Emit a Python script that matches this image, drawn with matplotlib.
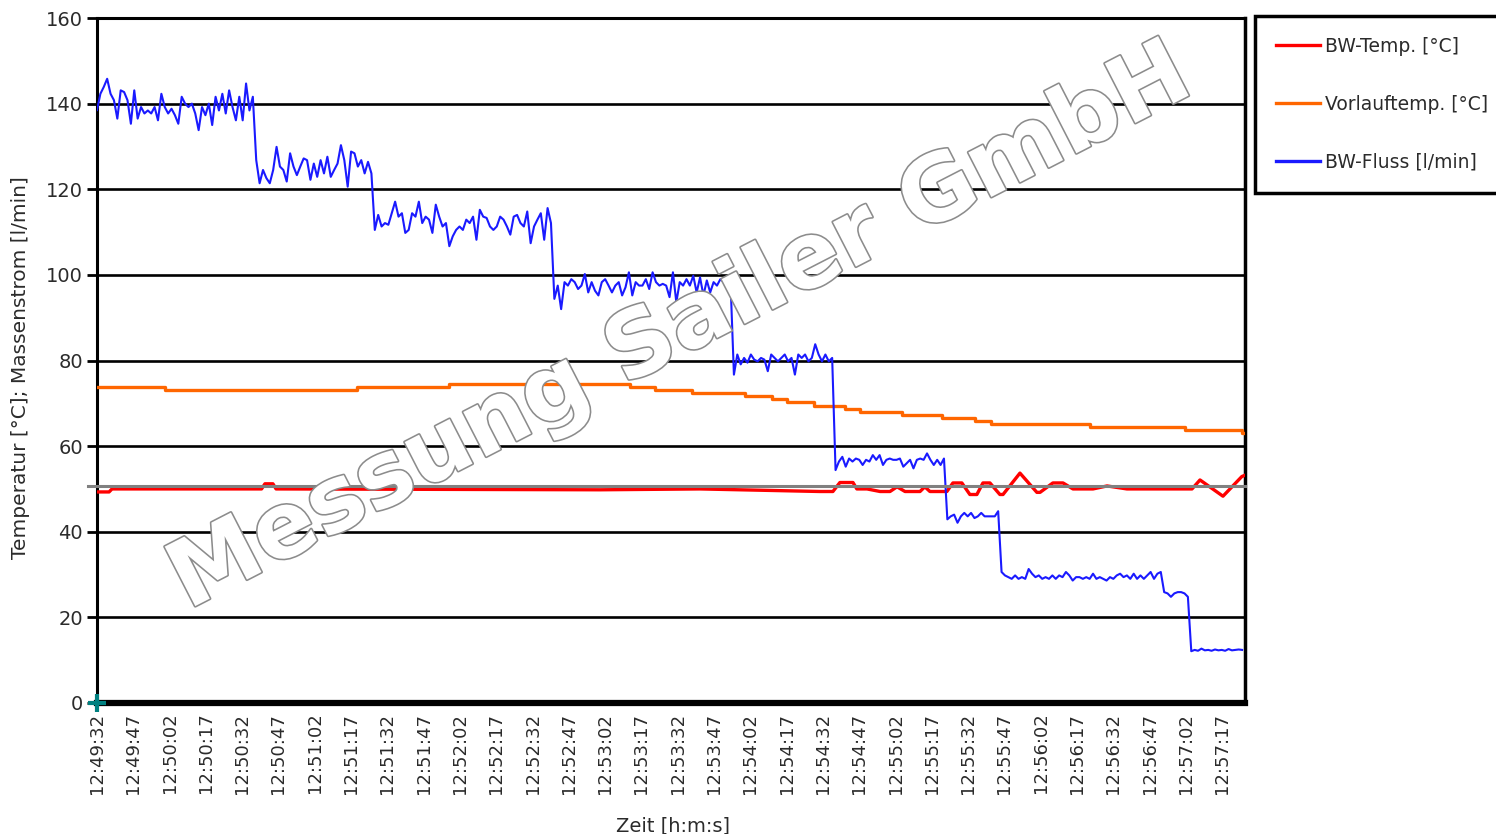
import matplotlib
matplotlib.use("Agg")
import matplotlib.pyplot as plt
import matplotlib.patheffects as pe
import numpy as np

# ---------------- data ----------------
# time axis: seconds after 12:49:32
tick_seconds = list(range(0, 466, 15))
tick_labels = ["12:49:32", "12:49:47", "12:50:02", "12:50:17", "12:50:32", "12:50:47",
               "12:51:02", "12:51:17", "12:51:32", "12:51:47", "12:52:02", "12:52:17",
               "12:52:32", "12:52:47", "12:53:02", "12:53:17", "12:53:32", "12:53:47",
               "12:54:02", "12:54:17", "12:54:32", "12:54:47", "12:55:02", "12:55:17",
               "12:55:32", "12:55:47", "12:56:02", "12:56:17", "12:56:32", "12:56:47",
               "12:57:02", "12:57:17"]
x_end = 474.4

# BW-Fluss [l/min], sampled every 1.4 s
flow_sample_s = 1.4
flow_values = [
    # ~140
    138.5, 142.3, 143.9, 145.8, 142.3, 140.8, 136.5, 143.1, 142.7, 140.8, 135.3, 143.1,
    136.5, 139.2, 137.7, 138.4, 137.7, 139.2, 136.1, 142.3, 139.2, 137.7, 138.8, 137.3,
    135.3, 141.6, 140.0, 139.2, 140.0, 137.7, 133.8, 139.2, 137.3, 140.0, 135.0, 141.6,
    138.4, 142.3, 137.7, 143.1, 139.2, 136.1, 141.6, 136.1, 144.7, 138.4, 141.6,
    # ~125
    126.8, 121.4, 124.5, 122.6, 121.4, 124.5, 129.9, 125.3, 124.5, 121.8, 128.4, 125.3,
    123.3, 125.3, 127.2, 126.8, 122.2, 126.0, 122.9, 126.8, 123.7, 127.6, 122.9, 124.5,
    126.0, 130.3, 126.8, 120.6, 128.8, 128.4, 125.3, 126.8, 123.7, 126.4, 123.7,
    # ~112
    110.5, 114.0, 111.3, 112.1, 111.7, 114.4, 117.1, 113.6, 114.4, 109.8, 110.5, 114.4,
    113.6, 117.1, 112.1, 113.6, 112.9, 109.8, 116.4, 113.6, 111.3, 112.1, 106.7, 109.0,
    110.5, 111.3, 110.5, 112.9, 112.1, 113.6, 108.2, 115.2, 113.6, 113.3, 111.3, 110.5,
    111.3, 113.6, 112.9, 111.3, 109.4, 113.6, 114.0, 112.1, 111.3, 114.8, 107.4, 111.3,
    112.9, 114.4, 108.2, 115.6, 112.1,
    # ~97
    94.4, 97.5, 92.0, 98.3, 97.5, 99.0, 98.3, 96.7, 97.5, 100.2, 95.9, 98.3, 96.3, 95.2,
    98.3, 99.0, 97.5, 95.9, 97.5, 98.3, 95.2, 97.1, 100.6, 95.2, 98.3, 97.5, 97.5, 99.0,
    96.7, 100.6, 98.3, 97.5, 97.9, 97.5, 94.8, 100.6, 93.6, 98.3, 97.5, 99.0, 97.5, 99.8,
    95.9, 99.4, 95.2, 98.7, 95.9, 98.3, 97.5, 99.0, 98.3, 97.5, 98.3,
    # ~80
    76.7, 81.4, 79.1, 80.6, 79.5, 81.4, 80.2, 79.8, 80.6, 80.2, 77.5, 81.4, 80.6, 79.8,
    80.6, 81.4, 79.8, 80.6, 76.7, 81.4, 80.6, 81.4, 79.8, 80.6, 83.8, 81.4, 79.8, 81.4,
    79.8, 80.6,
    # ~57
    54.4, 56.4, 57.5, 55.2, 57.1, 56.4, 57.1, 56.8, 55.6, 56.8, 56.4, 57.9, 56.8, 57.9,
    55.6, 56.8, 57.1, 56.8, 56.8, 57.1, 55.2, 56.0, 56.8, 54.8, 56.8, 57.1, 56.8, 58.3,
    56.8, 55.6, 56.8, 55.6, 57.1,
    # ~43
    42.9, 43.6, 44.0, 42.1, 43.6, 44.4, 43.6, 44.4, 43.2, 43.6, 44.4, 43.6, 43.6, 43.6,
    43.6, 44.8,
    # ~30
    30.6, 29.8, 29.4, 29.0, 29.8, 29.0, 29.4, 29.0, 31.3, 30.2, 29.4, 29.8, 29.0, 29.4,
    29.0, 29.8, 29.0, 29.8, 29.4, 30.6, 29.8, 28.6, 29.4, 29.4, 29.0, 29.4, 29.0, 30.2,
    29.0, 29.4, 29.0, 28.6, 29.4, 29.0, 29.8, 30.2, 29.4, 29.8, 29.0, 30.2, 29.0, 29.8,
    29.0, 29.8, 30.6, 29.0, 30.2, 30.6,
    # ~25.5
    25.9, 25.6, 24.8, 25.6, 25.9, 25.9, 25.6, 24.8,
    # ~12
    12.1, 12.4, 12.2, 12.7, 12.3, 12.4, 12.2, 12.5, 12.3, 12.4, 12.2, 12.6, 12.3, 12.4,
    12.5, 12.4,
]

# Vorlauftemp. [°C] (stepped values, change times in s)
supply_t = [0, 28.1, 107.3, 145.5, 220.2, 230.6, 245.9, 267.8, 278.9, 285.1, 296.3,
            309.1, 315.3, 332.6, 349.2, 362.8, 369.4, 410.3, 449.6, 473.1, 474.4]
supply_v = [73.8, 73.0, 73.8, 74.4, 73.8, 73.0, 72.3, 71.6, 70.9, 70.2, 69.4,
            68.6, 67.9, 67.2, 66.5, 65.8, 65.1, 64.4, 63.7, 63.0, 63.0]

# BW-Temp. [°C]
bw_t = [0, 5.0, 6.2, 68.0, 69.4, 72.7, 74.0, 207.9, 249.2, 298.8, 304.1, 307.0, 312.4,
        314.0, 318.2, 323.6, 327.7, 330.6, 333.9, 340.1, 342.1, 344.2, 351.2, 353.7,
        357.4, 360.7, 363.6, 366.1, 369.0, 373.1, 374.4, 381.4, 388.4, 389.7, 395.0,
        399.2, 403.3, 411.6, 417.4, 425.6, 452.5, 455.8, 465.3, 473.1, 474.4]
bw_v = [49.3, 49.3, 50.0, 50.0, 51.2, 51.2, 50.0, 49.8, 50.0, 49.4, 49.4, 51.5, 51.5,
        50.0, 50.0, 49.4, 49.4, 50.5, 49.4, 49.4, 50.5, 49.4, 49.4, 51.4,
        51.4, 48.7, 48.7, 51.4, 51.4, 48.7, 48.7, 53.7, 49.2, 49.2, 51.4,
        51.4, 50.0, 50.0, 50.7, 50.0, 50.0, 52.1, 48.3, 52.9, 53.2]

ref_level = 50.7
y_ticks = [0, 20, 40, 60, 80, 100, 120, 140, 160]
series_names = ["BW-Temp. [°C]", "Vorlauftemp. [°C]", "BW-Fluss [l/min]"]

# ---------------- figure ----------------
fig = plt.figure(figsize=(14.96, 8.34), dpi=100)
ax = fig.add_axes([97 / 1496, 1 - 703 / 834, 1148 / 1496, 685 / 834])

flow_t = np.arange(len(flow_values)) * flow_sample_s
text_col = "#2b2b2b"

ax.set_xlim(0, x_end)
ax.set_ylim(0, 160)
ax.set_yticks(y_ticks)
ax.yaxis.grid(True, color="black", linewidth=1.9, zorder=1)
ax.set_axisbelow(True)

l_bw, = ax.plot(bw_t, bw_v, color="#ff0000", lw=2.4, zorder=3)
ax.axhline(ref_level, xmin=-0.008, xmax=1, color="#808080", lw=2.2, zorder=4, clip_on=False)
l_sup, = ax.plot(supply_t, supply_v, color="#ff6600", lw=2.4, drawstyle="steps-post", zorder=3)
l_flow, = ax.plot(flow_t, flow_values, color="#1a1aff", lw=1.5, zorder=3)
ax.plot([0], [0], marker="+", color="#008080", ms=13, mew=3, clip_on=False, zorder=6)

ax.set_xticks(tick_seconds)
ax.set_xticklabels(tick_labels, rotation=90, fontsize=13, color=text_col)
ax.tick_params(axis="x", length=0, pad=7)
ax.tick_params(axis="y", length=7, width=2, pad=3, labelsize=14, labelcolor=text_col)

for side, lw in [("left", 2.2), ("right", 2.5), ("top", 2.2), ("bottom", 4.5)]:
    ax.spines[side].set_color("black")
    ax.spines[side].set_linewidth(lw)

ax.set_ylabel("Temperatur [°C]; Massenstrom [l/min]", fontsize=14.5, color=text_col)
ax.yaxis.set_label_coords(-0.0584, 0.49)
ax.set_xlabel("Zeit [h:m:s]", fontsize=14, color=text_col)
ax.xaxis.set_label_coords(0.502, -0.165)

# watermark
wm = fig.text(680 / 1496, 1 - 328 / 834, "Messung Sailer GmbH", fontsize=66,
              fontweight="bold", color="white", rotation=27.2, ha="center", va="center",
              rotation_mode="anchor", zorder=10)
wm.set_path_effects([pe.Stroke(linewidth=2.3, foreground="#8c8c8c"), pe.Normal()])

leg = ax.legend([l_bw, l_sup, l_flow], series_names, loc="upper left",
                bbox_to_anchor=(1255 / 1496, 1 - 16 / 834), bbox_transform=fig.transFigure,
                fontsize=13.5, frameon=True, fancybox=False, shadow=False, framealpha=1,
                borderpad=1.12, handlelength=2.35, handletextpad=0.28, labelspacing=2.08,
                borderaxespad=0)
leg.get_frame().set_edgecolor("black")
leg.get_frame().set_linewidth(2.5)
for t in leg.get_texts():
    t.set_color(text_col)
for h in leg.get_lines():
    h.set_linewidth(2.4)

fig.savefig("out.png", dpi=100)
